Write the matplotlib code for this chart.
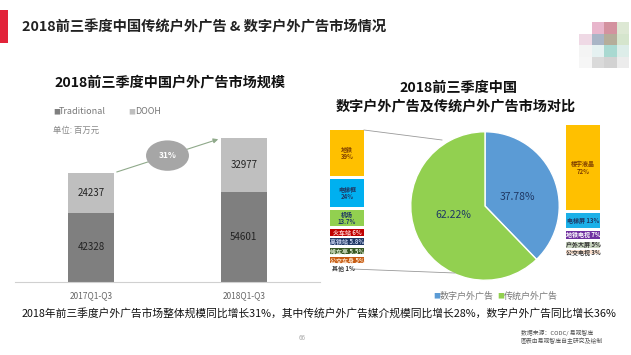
import numpy as np
import matplotlib
matplotlib.use('Agg')
import matplotlib.pyplot as plt
from matplotlib.lines import Line2D
from matplotlib.patches import Rectangle

plt.rcParams['font.family'] = ['Noto Sans CJK SC', 'DejaVu Sans']

# ---- data ----
periods = ['2017Q1-Q3', '2018Q1-Q3']
traditional = [42328, 54601]
dooh = [24237, 32977]
growth_label = '31%'

pie_labels = ['数字户外广告', '传统户外广告']
pie_values = [37.78, 62.22]

trad_names = ['地铁', '电梯框', '机场', '火车站', '高铁站', '候车亭', '公交车身', '其他']
trad_share = [39, 24, 13.7, 6.0, 5.8, 5.5, 5.0, 1]

digi_names = ['楼宇液晶', '电梯屏', '地铁电视', '户外大屏', '公交电视']
digi_share = [72, 13, 7, 5, 3]

W, H = 631, 355
fig = plt.figure(figsize=(W / 100, H / 100), dpi=100)


def px_axes(x0, y0, x1, y1):
    return fig.add_axes([x0 / W, 1 - y1 / H, (x1 - x0) / W, (y1 - y0) / H])


def ftext(x, y, s, **kw):
    fig.text(x / W, 1 - y / H, s, **kw)


def fline(xs, ys, **kw):
    fig.add_artist(Line2D([x / W for x in xs], [1 - y / H for y in ys],
                          transform=fig.transFigure, **kw))


# header
fig.add_artist(Rectangle((0, 1 - 43 / H), 8 / W, 33 / H, transform=fig.transFigure,
                         fc='#E2233A', ec='none'))
ftext(22, 27, '2018前三季度中国传统户外广告 & 数字户外广告市场情况', fontsize=10.3,
      fontweight='bold', color='#222222', va='center')

# blurred mosaic in the corner
mosaic = [['#FFFFFF', '#E8B6CC', '#D3929F', '#DDE8D4'],
          ['#EFD9E5', '#A9B5C6', '#B5AD9A', '#D5E5CD'],
          ['#F4F4F4', '#E5F1F1', '#A9D9D1', '#DDEDE9'],
          ['#F6F6F6', '#DADADA', '#D2D2D2', '#ECECEC']]
for r, row in enumerate(mosaic):
    for c, col in enumerate(row):
        fig.add_artist(Rectangle(((579 + c * 12.5) / W, 1 - (22 + (r + 1) * 11.5) / H),
                                 12.5 / W, 11.5 / H, transform=fig.transFigure,
                                 fc=col, ec='none'))

# ---- left: stacked bars ----
ftext(170, 82, '2018前三季度中国户外广告市场规模', fontsize=10.2, fontweight='bold',
      color='#111111', ha='center', va='center')
ax = px_axes(15, 118, 320, 282)
x = np.arange(len(periods))
c_trad, c_dooh = '#7F7F7F', '#BFBFBF'
ax.bar(x, traditional, width=0.3, color=c_trad)
ax.bar(x, dooh, width=0.3, bottom=traditional, color=c_dooh)
for i in range(len(periods)):
    ax.text(x[i], traditional[i] / 2, str(traditional[i]), ha='center', va='center',
            fontsize=7, color='#222222')
    ax.text(x[i], traditional[i] + dooh[i] / 2, str(dooh[i]), ha='center', va='center',
            fontsize=7, color='#222222')
    ax.text(x[i], -5500, periods[i], ha='center', va='top', fontsize=6, color='#666666')
tot = [t + d for t, d in zip(traditional, dooh)]
ax.annotate('', xy=(x[1] - 0.15, tot[1]), xytext=(x[0] + 0.15, tot[0]),
            arrowprops=dict(arrowstyle='-|>', color='#8FA98A', lw=0.8, mutation_scale=7))
ax.text((x[0] + x[1]) / 2, (tot[0] + tot[1]) / 2, growth_label, ha='center', va='center',
        fontsize=6, color='white', fontweight='bold',
        bbox=dict(boxstyle='ellipse,pad=0.75', fc='#A6A6A6', ec='none'))
ax.set_xlim(-0.5, 1.5)
ax.set_ylim(0, 100000)
for s in ['top', 'right', 'left']:
    ax.spines[s].set_visible(False)
ax.spines['bottom'].set_color('#D0D0D0')
ax.set_xticks([])
ax.set_yticks([])

ftext(53, 112, '■', fontsize=5, color=c_trad, va='center')
ftext(59, 112, 'Traditional', fontsize=6.5, color='#777777', va='center')
ftext(128, 112, '■', fontsize=5, color=c_dooh, va='center')
ftext(135, 112, 'DOOH', fontsize=6.5, color='#777777', va='center')
ftext(53, 130, '单位: 百万元', fontsize=6, color='#888888', va='center')

# ---- right: pie ----
ftext(458, 88, '2018前三季度中国', fontsize=10.2, fontweight='bold', color='#111111',
      ha='center', va='center')
ftext(456, 106, '数字户外广告及传统户外广告市场对比', fontsize=10.2, fontweight='bold',
      color='#111111', ha='center', va='center')

pax = px_axes(410, 131, 560, 281)
pie_colors = ['#5B9BD5', '#92D050']
pax.pie(pie_values, colors=pie_colors, startangle=90, counterclock=False,
        wedgeprops=dict(edgecolor='white', linewidth=1))
pax.text(0.44, 0.12, f'{pie_values[0]:.2f}%', ha='center', va='center', fontsize=7.5,
         color='#1F3864')
pax.text(-0.42, -0.12, f'{pie_values[1]:.2f}%', ha='center', va='center', fontsize=7.5,
         color='#1F3864')
pax.set_xlim(-1.01, 1.01)
pax.set_ylim(-1.01, 1.01)
pax.set_aspect('equal')
ftext(433, 296, '■', fontsize=5, color=pie_colors[0], va='center')
ftext(440, 296, pie_labels[0], fontsize=6.5, color='#777777', va='center')
ftext(497, 296, '■', fontsize=5, color=pie_colors[1], va='center')
ftext(504, 296, pie_labels[1], fontsize=6.5, color='#777777', va='center')

# breakdown stacks
gap = 2.3
span = 145 / 1.18


def stack(x0, y0, names, vals, colors, tcolors, twoline):
    a = px_axes(x0, y0, x0 + 34, y0 + 145)
    b = 0
    for i, (n, v) in enumerate(zip(names, vals)):
        a.bar(0.5, v, bottom=b, width=1, color=colors[i], edgecolor='none')
        lab = f'{n}\n{v:g}%' if i in twoline else f'{n} {v:g}%'
        a.text(0.5, b + v / 2, lab, ha='center', va='center', fontsize=4.3,
               color=tcolors[i], fontweight='bold', linespacing=1.1)
        b += v + gap
    a.set_xlim(0, 1)
    a.set_ylim(span, 0)
    a.axis('off')
    return a


tc = ['#FFC000', '#00B0F0', '#92D050', '#C00000', '#203864', '#385723', '#C55A11', '#D9D9D9']
ttc = ['#7F3F00', '#1F3864', '#1F3864', '#FFD7D7', '#C9D3F0', '#DDEBD0', '#FFE5CC', '#333333']
stack(330, 130, trad_names[:-1], trad_share[:-1], tc, ttc, [0, 1, 2])
ftext(343, 269, f'{trad_names[-1]} {trad_share[-1]:g}%', fontsize=4.3, color='#333333',
      ha='center', va='center', fontweight='bold')

dc = ['#FFC000', '#1CB0E8', '#7030A0', '#C8D4BE', '#FBE1CF']
dtc = ['#7F3F00', '#1F3864', '#FFFFFF', '#333333', '#333333']
stack(566, 125, digi_names, digi_share, dc, dtc, [0])

# leader lines
fline([364, 442], [130, 140], color='#999999', lw=0.6)
fline([352, 455], [269, 273], color='#999999', lw=0.6)

# ---- footer ----
ftext(22, 313, '2018年前三季度户外广告市场整体规模同比增长31%，其中传统户外广告媒介规模同比增长28%，数字户外广告同比增长36%',
      fontsize=7.75, color='#111111', va='center')
ftext(302, 338, '66', fontsize=4.5, color='#AAAAAA', ha='center', va='center')
ftext(521, 333, '数据来源：CODC/ 易观智库', fontsize=4.2, color='#555555', va='center')
ftext(521, 341, '图表由易观智库自主研究及绘制', fontsize=4.2, color='#555555', va='center')

fig.savefig('out.png', dpi=100)
